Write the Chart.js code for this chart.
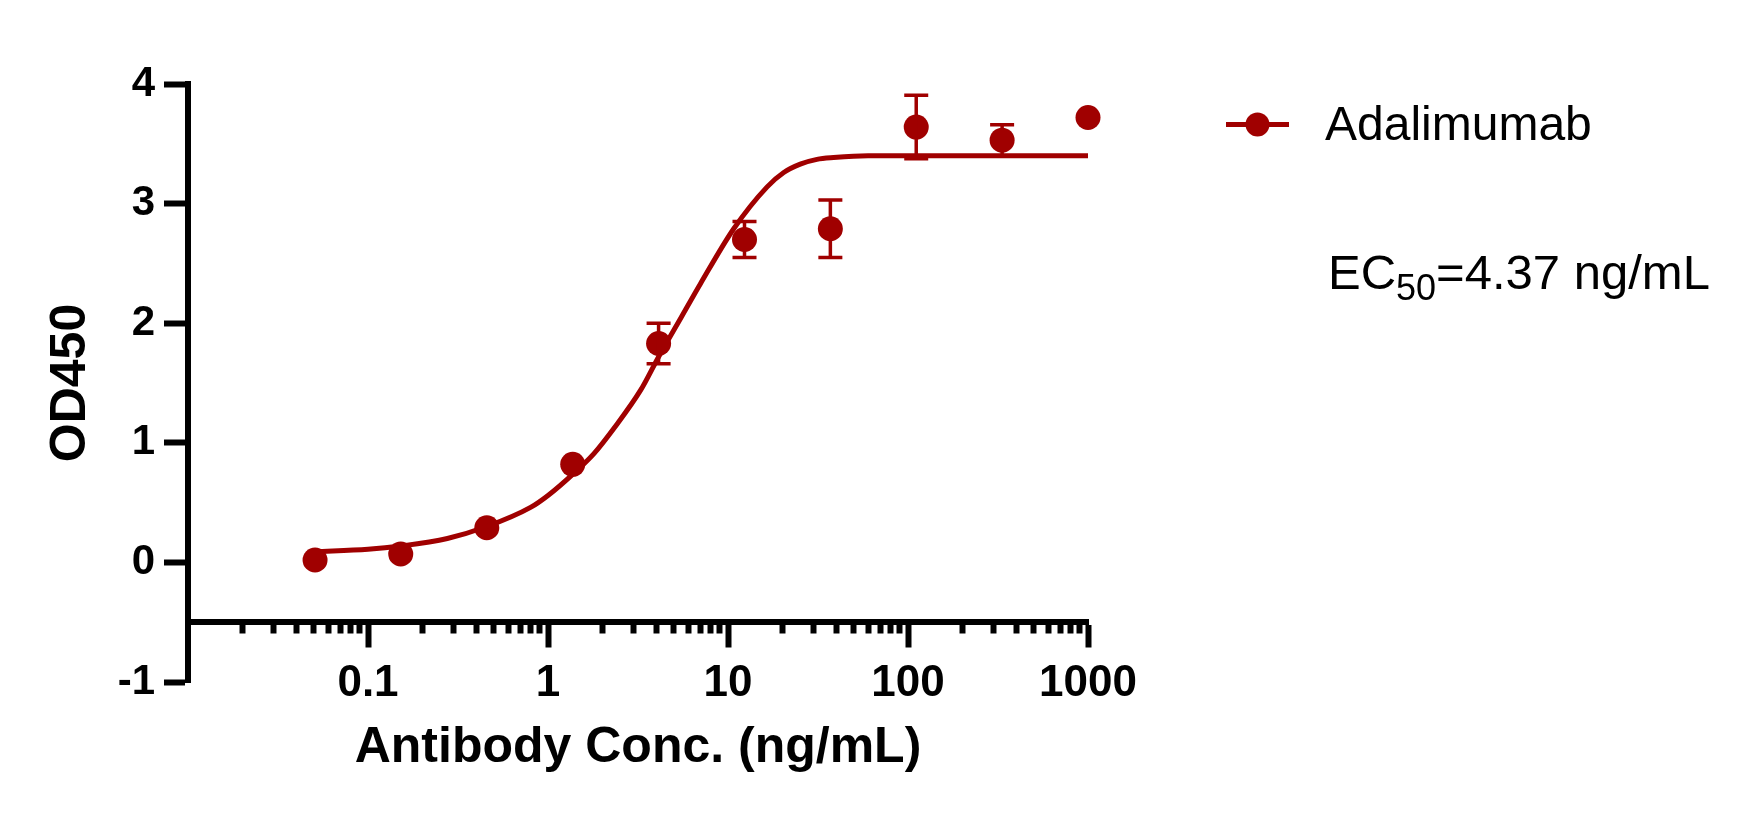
<!DOCTYPE html>
<html>
<head>
<meta charset="utf-8">
<script src="https://cdn.jsdelivr.net/npm/chart.js@4.4.1/dist/chart.umd.min.js"></script>
<style>
  body { margin: 0; background: #fff; }
  canvas { display: block; }
</style>
</head>
<body>
<canvas id="ec50-chart" width="1758" height="822"></canvas>
<script>
// measured points (3-fold dilution) with SD
const conc = [0.0508, 0.152, 0.457, 1.372, 4.115, 12.35, 37.04, 111.1, 333.3, 1000];
const od450 = [0.02, 0.07, 0.29, 0.82, 1.83, 2.70, 2.79, 3.64, 3.53, 3.72];
const sd = [0, 0, 0, 0, 0.17, 0.15, 0.24, 0.265, 0.13, 0];

// fitted curve
const fitX = [0.0508, 0.1, 0.152, 0.276, 0.457, 0.8, 1.0, 1.39, 1.80, 2.32, 3.27, 4.12, 5.5, 7.03, 10.76, 16.5, 20.4, 25.2, 31.2, 38.6, 60, 100, 1000];
const fitY = [0.09, 0.11, 0.137, 0.20, 0.30, 0.46, 0.56, 0.745, 0.91, 1.12, 1.44, 1.72, 2.05, 2.33, 2.79, 3.14, 3.26, 3.33, 3.37, 3.385, 3.40, 3.40, 3.40];

const xMajorTicks = [0.1, 1, 10, 100, 1000];
const xMinorMantissa = [2, 3, 4, 5, 6, 7, 8, 9];
const xDecades = [0.01, 0.1, 1, 10, 100];

const seriesName = 'Adalimumab';
const ec50Label = ['EC', '50', '=4.37 ng/mL'];

const red = '#a00000';
const font = "'Liberation Sans', Arial, sans-serif";

const errorBars = {
  id: 'errorBars',
  afterDatasetsDraw(chart) {
    const { ctx, scales: { x, y } } = chart;
    ctx.save();
    ctx.strokeStyle = red;
    ctx.lineWidth = 3.5;
    conc.forEach((c, i) => {
      if (!sd[i]) return;
      const px = x.getPixelForValue(c);
      const top = y.getPixelForValue(od450[i] + sd[i]);
      const bot = y.getPixelForValue(od450[i] - sd[i]);
      ctx.beginPath();
      ctx.moveTo(px, top); ctx.lineTo(px, bot);
      ctx.moveTo(px - 12, top); ctx.lineTo(px + 12, top);
      ctx.moveTo(px - 12, bot); ctx.lineTo(px + 12, bot);
      ctx.stroke();
    });
    ctx.restore();
  },
};

// legend entry + EC50 note on the right
const sideText = {
  id: 'sideText',
  afterDraw(chart) {
    const ctx = chart.ctx;
    ctx.save();
    ctx.strokeStyle = red;
    ctx.fillStyle = red;
    ctx.lineWidth = 5;
    ctx.beginPath();
    ctx.moveTo(1226, 124.5);
    ctx.lineTo(1289, 124.5);
    ctx.stroke();
    ctx.beginPath();
    ctx.arc(1257.5, 124.5, 12, 0, Math.PI * 2);
    ctx.fill();

    ctx.fillStyle = '#000';
    ctx.textBaseline = 'alphabetic';
    ctx.textAlign = 'left';
    ctx.font = `48px ${font}`;
    ctx.fillText(seriesName, 1325, 140);

    let x = 1328;
    ctx.font = `49px ${font}`;
    ctx.fillText(ec50Label[0], x, 289);
    x += ctx.measureText(ec50Label[0]).width;
    ctx.font = `36px ${font}`;
    ctx.fillText(ec50Label[1], x, 300);
    x += ctx.measureText(ec50Label[1]).width;
    ctx.font = `49px ${font}`;
    ctx.fillText(ec50Label[2], x, 289);
    ctx.restore();
  },
};

const xTickFont = { family: font, size: 44, weight: 'bold', lineHeight: 1 };
const yTickFont = { family: font, size: 42, weight: 'bold', lineHeight: 1 };
const titleFont = { family: font, size: 50, weight: 'bold', lineHeight: 1 };

new Chart(document.getElementById('ec50-chart'), {
  type: 'line',
  data: {
    datasets: [
      {
        label: 'fit',
        data: fitX.map((x, i) => ({ x, y: fitY[i] })),
        borderColor: red,
        borderWidth: 5,
        pointRadius: 0,
        cubicInterpolationMode: 'monotone',
        fill: false,
        clip: false,
      },
      {
        label: seriesName,
        data: conc.map((x, i) => ({ x, y: od450[i] })),
        showLine: false,
        pointRadius: 12.5,
        pointHoverRadius: 12.5,
        pointBackgroundColor: red,
        pointBorderWidth: 0,
        clip: false,
      },
    ],
  },
  options: {
    responsive: false,
    animation: false,
    devicePixelRatio: 1,
    layout: { padding: { left: 0, top: 84, right: 670, bottom: 140 } },
    plugins: {
      legend: { display: false },
      tooltip: { enabled: false },
    },
    scales: {
      x: {
        type: 'logarithmic',
        min: 0.01,
        max: 1000,
        position: { y: -0.5 },
        afterBuildTicks: axis => {
          axis.ticks = xMajorTicks.map(v => ({ value: v }));
        },
        ticks: {
          font: xTickFont,
          color: '#000',
          padding: 17,
          maxRotation: 0,
          autoSkip: false,
          callback: v => String(v),
        },
        grid: { drawOnChartArea: false, tickLength: 22.5, tickWidth: 6, tickColor: '#000' },
        border: { color: '#000', width: 6 },
        title: {
          display: true,
          text: 'Antibody Conc. (ng/mL)',
          font: titleFont,
          color: '#000',
          padding: { top: 1, bottom: 0 },
        },
      },
      xMinor: {
        axis: 'x',
        type: 'logarithmic',
        min: 0.01,
        max: 1000,
        position: { y: -0.5 },
        afterBuildTicks: axis => {
          const ticks = [];
          xDecades.forEach(d => xMinorMantissa.forEach(m => ticks.push({ value: +(m * d).toPrecision(3) })));
          axis.ticks = ticks;
        },
        ticks: { display: false },
        grid: { drawOnChartArea: false, tickLength: 11.5, tickWidth: 6, tickColor: '#000' },
        border: { display: false },
      },
      y: {
        type: 'linear',
        min: -1,
        max: 4,
        position: 'left',
        afterFit: axis => {
          axis.width = 188;
        },
        ticks: { stepSize: 1, font: yTickFont, color: '#000', padding: 9 },
        grid: { drawOnChartArea: false, tickLength: 24, tickWidth: 6, tickColor: '#000' },
        border: { color: '#000', width: 6 },
        title: {
          display: true,
          text: 'OD450',
          font: titleFont,
          color: '#000',
          padding: { top: 46, bottom: 0 },
        },
      },
    },
  },
  plugins: [errorBars, sideText],
});
</script>
</body>
</html>
